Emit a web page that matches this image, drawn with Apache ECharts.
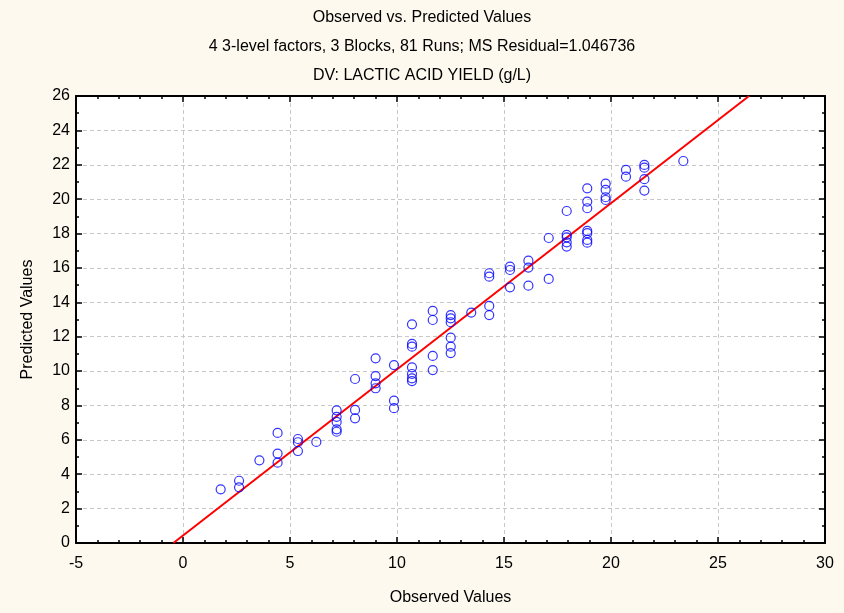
<!DOCTYPE html>
<html>
<head>
<meta charset="utf-8">
<script src="https://cdn.jsdelivr.net/npm/echarts@6/dist/echarts.min.js"></script>
<style>
html,body{margin:0;padding:0;background:#fdf9ee;}
#chart{width:844px;height:613px;}
</style>
</head>
<body>
<div id="chart"></div>
<script>
// Observed levels and predicted values
const observedLevels = [1.76, 2.62, 3.57, 4.42, 5.37, 6.23, 7.18, 8.04, 9.00, 9.86, 10.70, 11.67, 12.51, 13.47, 14.31, 15.28, 16.14, 17.09, 17.93, 18.89, 19.75, 20.70, 21.56, 23.38];
const predictedByLevel = [
  [3.12],
  [3.62, 3.24],
  [4.81],
  [6.40, 5.20, 4.67],
  [6.05, 5.86, 5.35],
  [5.88],
  [7.72, 7.34, 7.04, 6.61, 6.47],
  [9.54, 7.74, 7.25],
  [10.74, 9.71, 9.29, 9.00],
  [10.35, 8.28, 7.84],
  [12.72, 11.58, 11.42, 10.22, 9.83, 9.58, 9.42],
  [13.50, 12.97, 10.88, 10.06],
  [13.26, 13.07, 12.84, 11.94, 11.42, 11.05],
  [13.40],
  [15.69, 15.49, 13.79, 13.26],
  [16.07, 15.88, 14.87],
  [16.42, 16.02, 14.97],
  [17.74, 15.36],
  [19.31, 17.92, 17.78, 17.49, 17.24],
  [20.63, 19.86, 19.47, 18.15, 18.02, 17.63, 17.47],
  [20.90, 20.54, 20.11, 19.95],
  [21.70, 21.31],
  [21.99, 21.83, 21.16, 20.50],
  [22.22]
];
// Fitted line end points (observed, predicted)
const fitX = [-0.45, 26.45];
const fitY = [0, 26];

const xTicks = {min: -5, max: 30, interval: 5};
const yTicks = {min: 0, max: 26, interval: 2};

const titleLines = ['Observed vs. Predicted Values', '4 3-level factors, 3 Blocks, 81 Runs; MS Residual=1.046736', 'DV: LACTIC ACID YIELD (g/L)'];
const xName = 'Observed Values';
const yName = 'Predicted Values';

const points = [];
observedLevels.forEach((x, i) => predictedByLevel[i].forEach(y => points.push([x, y])));

const FONT = 'Liberation Sans, Arial, sans-serif';
const chart = echarts.init(document.getElementById('chart'), null, {renderer: 'canvas'});

const baseAxis = {
  axisLine: {show: true, onZero: false, lineStyle: {color: '#000', width: 2}},
  axisTick: {show: true, inside: true, length: 6, lineStyle: {color: '#000', width: 1.5}},
  minorTick: {show: true, length: 3, lineStyle: {color: '#000', width: 1.5}},
  splitLine: {show: false},
  nameTextStyle: {color: '#000', fontFamily: FONT, fontSize: 16},
  axisLabel: {color: '#000', fontFamily: FONT, fontSize: 16}
};

chart.setOption({
  backgroundColor: '#fdf9ee',
  animation: false,
  title: titleLines.map((t, i) => ({
    text: t, left: 'center', top: 5 + i * 29,
    textStyle: {fontFamily: FONT, fontSize: 16, fontWeight: 'normal', color: '#000'}
  })),
  grid: {left: 76, right: 19, top: 96, bottom: 70, show: true, backgroundColor: '#fff', borderWidth: 0},
  xAxis: [
    Object.assign({}, baseAxis, {
      type: 'value', position: 'bottom', min: xTicks.min, max: xTicks.max, interval: xTicks.interval,
      name: xName, nameLocation: 'middle', nameGap: 47,
      minorTick: Object.assign({}, baseAxis.minorTick, {splitNumber: 5}),
      splitLine: {show: true, lineStyle: {color: '#c8c8c8', type: [4, 3], width: 1}},
      axisLabel: Object.assign({}, baseAxis.axisLabel, {margin: 13})
    }),
    Object.assign({}, baseAxis, {
      type: 'value', position: 'top', min: xTicks.min, max: xTicks.max, interval: xTicks.interval,
      minorTick: Object.assign({}, baseAxis.minorTick, {splitNumber: 5}),
      axisLabel: {show: false}
    })
  ],
  yAxis: [
    Object.assign({}, baseAxis, {
      type: 'value', position: 'left', min: yTicks.min, max: yTicks.max, interval: yTicks.interval,
      name: yName, nameLocation: 'middle', nameGap: 40, nameRotate: 90,
      minorTick: Object.assign({}, baseAxis.minorTick, {splitNumber: 2}),
      splitLine: {show: true, lineStyle: {color: '#c8c8c8', type: [4, 3], width: 1}},
      axisLabel: Object.assign({}, baseAxis.axisLabel, {margin: 6})
    }),
    Object.assign({}, baseAxis, {
      type: 'value', position: 'right', min: yTicks.min, max: yTicks.max, interval: yTicks.interval,
      minorTick: Object.assign({}, baseAxis.minorTick, {splitNumber: 2}),
      axisLabel: {show: false}
    })
  ],
  series: [
    {
      type: 'line', xAxisIndex: 0, yAxisIndex: 0,
      data: fitX.map((x, i) => [x, fitY[i]]),
      symbol: 'none', clip: true,
      lineStyle: {color: '#ff0000', width: 2}, z: 3
    },
    {
      type: 'scatter', xAxisIndex: 0, yAxisIndex: 0,
      data: points, symbol: 'circle', symbolSize: 9,
      itemStyle: {color: 'rgba(0,0,0,0)', borderColor: '#0000ff', borderWidth: 1.2}, z: 4
    }
  ]
});
</script>
</body>
</html>
